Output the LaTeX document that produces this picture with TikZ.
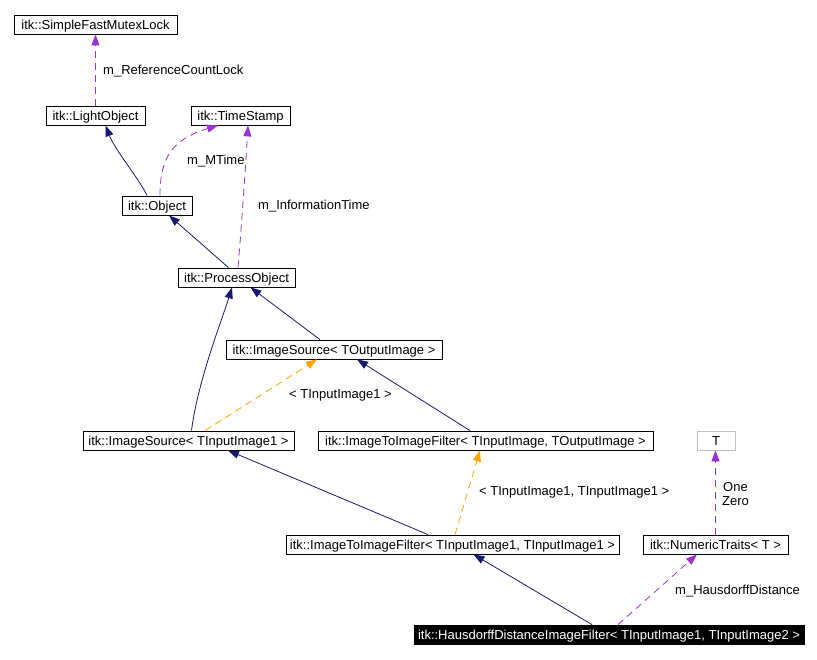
\documentclass[tikz,border=0pt]{standalone}
\usepackage{fontspec}
\setmainfont{Liberation Sans}
\usetikzlibrary{arrows.meta}

\definecolor{inhblue}{RGB}{25,25,112}
\definecolor{usepurple}{RGB}{154,50,205}
\definecolor{tmplorange}{RGB}{255,165,0}
\definecolor{framegray}{RGB}{191,191,191}

\begin{document}
\begin{tikzpicture}[x=1pt, y=-1pt, >={Triangle[length=11pt,width=8pt]},
    every node/.style={font=\fontsize{13}{14}\selectfont},
    cls/.style={draw, line width=0.8pt, minimum height=19pt, inner sep=0pt, text height=9.5pt, text depth=0pt},
    inherit/.style={->, inhblue, line width=0.8pt},
    usage/.style={->, usepurple, line width=0.8pt, dash pattern=on 7pt off 5pt},
    tmpl/.style={->, tmplorange, line width=0.8pt, dash pattern=on 7pt off 5pt},
    lbl/.style={anchor=west, inner sep=0pt}]
    \useasboundingbox (0,0) rectangle (817,659);
    % classes
    \node[cls, minimum width=163pt] (mutex) at (95.5,24.5) {itk::SimpleFastMutexLock};
    \node[cls, minimum width=99pt] (light) at (95.5,115.5) {itk::LightObject};
    \node[cls, minimum width=99pt] (stamp) at (240.5,115.5) {itk::TimeStamp};
    \node[cls, minimum width=70pt] (object) at (157,205.5) {itk::Object};
    \node[cls, minimum width=117pt] (process) at (236.5,277.5) {itk::ProcessObject};
    \node[cls, minimum width=216pt] (srcout) at (334,349.5) {itk::ImageSource< TOutputImage >};
    \node[cls, minimum width=211pt] (srcin) at (188.5,440.5) {itk::ImageSource< TInputImage1 >};
    \node[cls, minimum width=335pt] (filtio) at (485.5,440.5) {itk::ImageToImageFilter< TInputImage, TOutputImage >};
    \node[cls, draw=framegray, minimum width=38pt] (tparam) at (716,440.5) {T};
    \node[cls, minimum width=333pt] (filt11) at (452.5,544.5) {itk::ImageToImageFilter< TInputImage1, TInputImage1 >};
    \node[cls, minimum width=145pt] (traits) at (715.5,544.5) {itk::NumericTraits< T >};
    \node[cls, fill=black, text=white, minimum width=390pt] (hausdorff) at (609,634.5) {itk::HausdorffDistanceImageFilter< TInputImage1, TInputImage2 >};

    % inheritance
    \draw[inherit] ([xshift=-10pt]object.north) .. controls (140,180) and (115,150) .. ([xshift=10pt]light.south);
    \draw[inherit] ([xshift=-8pt]process.north) -- ([xshift=12pt]object.south);
    \draw[inherit] ([xshift=-14pt]srcout.north) -- ([xshift=14pt]process.south);
    \draw[inherit] ([xshift=3pt]srcin.north) .. controls (198,380) and (222,320) .. ([xshift=-4.5pt]process.south);
    \draw[inherit] ([xshift=-15.5pt]filtio.north) -- ([xshift=23pt]srcout.south);
    \draw[inherit] ([xshift=-24.5pt]filt11.north) -- ([xshift=39.5pt]srcin.south);
    \draw[inherit] ([xshift=-17pt]hausdorff.north) -- ([xshift=21pt]filt11.south);

    % members
    \draw[usage] (light.north) -- (mutex.south);
    \draw[usage] ([xshift=3pt]object.north) .. controls (160,160) and (170,140) .. ([xshift=-22.5pt]stamp.south);
    \draw[usage] ([xshift=1.5pt]process.north) .. controls (242,220) and (246,160) .. ([xshift=7.5pt]stamp.south);
    \draw[usage] (traits.north) -- (traits.north |- tparam.south);
    \draw[usage] ([xshift=9pt]hausdorff.north) -- ([xshift=-18.5pt]traits.south);

    % template instances
    \draw[tmpl] ([xshift=16.5pt]srcin.north) -- ([xshift=-17pt]srcout.south);
    \draw[tmpl] ([xshift=2.5pt]filt11.north) -- ([xshift=-5.5pt]filtio.south);

    % edge labels
    \node[lbl] (lbllock) at (103,71) {m\_ReferenceCountLock};
    \node[lbl] (lblmtime) at (187,161) {m\_MTime};
    \node[lbl] (lblinfo) at (258,206) {m\_InformationTime};
    \node[lbl] (lblsrc) at (289,395) {< TInputImage1 >};
    \node[lbl] (lblfilt) at (479,492.5) {< TInputImage1, TInputImage1 >};
    \node[inner sep=0pt, align=center] (lblzero) at (735.5,494) {One\\Zero};
    \node[lbl] (lbldist) at (675,591) {m\_HausdorffDistance};
\end{tikzpicture}
\end{document}
